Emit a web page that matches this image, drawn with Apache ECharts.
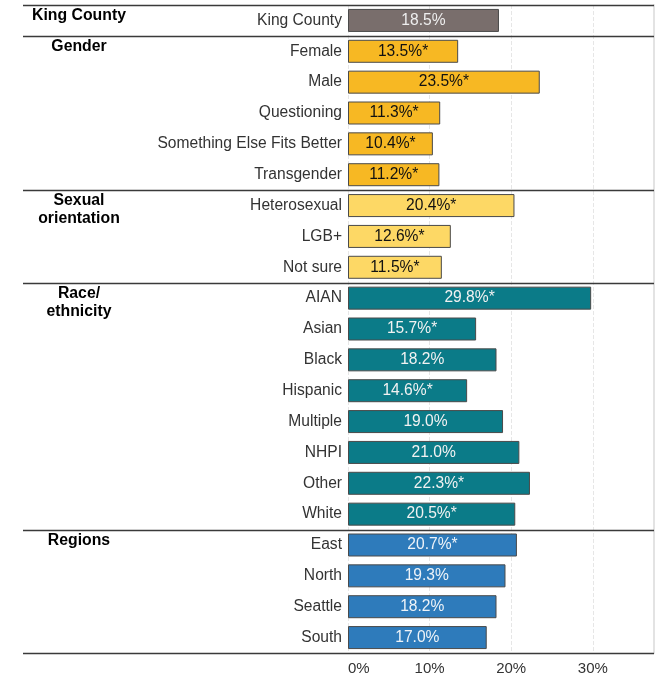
<!DOCTYPE html>
<html>
<head>
<meta charset="utf-8">
<script src="https://cdn.jsdelivr.net/npm/echarts@6/dist/echarts.min.js"></script>
<style>
html,body{margin:0;padding:0;background:#fff;}
#chart{width:666px;height:676px;}
</style>
</head>
<body>
<div id="chart"></div>
<script>
var categories = ['King County','Female','Male','Questioning','Something Else Fits Better','Transgender',
  'Heterosexual','LGB+','Not sure',
  'AIAN','Asian','Black','Hispanic','Multiple','NHPI','Other','White',
  'East','North','Seattle','South'];
var values = [18.5, 13.5, 23.5, 11.3, 10.4, 11.2,
  20.4, 12.6, 11.5,
  29.8, 15.7, 18.2, 14.6, 19.0, 21.0, 22.3, 20.5,
  20.7, 19.3, 18.2, 17.0];
var significant = [false, true, true, true, true, true,
  true, true, true,
  true, true, false, true, false, false, true, true,
  true, false, false, false];
var groupNames = ['King County', 'Gender', 'Sexual\norientation', 'Race/\nethnicity', 'Regions'];
var groupSizes = [1, 5, 3, 8, 4];
var groupColors = ['#796e6c', '#f7b823', '#fdd865', '#0b7b88', '#2e7bbb'];
var groupTextColors = ['#eeeeee', '#111111', '#111111', '#f2f2f2', '#eef3f8'];

var groupOf = [];
groupSizes.forEach(function (n, g) { for (var i = 0; i < n; i++) groupOf.push(g); });

var chart = echarts.init(document.getElementById('chart'));
var font = 'Liberation Sans, Arial, sans-serif';

var data = values.map(function (v, i) {
  var g = groupOf[i];
  return {
    value: v,
    itemStyle: { color: groupColors[g] },
    label: { color: groupTextColors[g] }
  };
});

chart.setOption({
  animation: false,
  grid: { left: 348, right: 12, top: 5, bottom: 23, containLabel: false },
  xAxis: {
    type: 'value', min: 0, max: 37.5, interval: 10,
    axisLine: { show: false }, axisTick: { show: false },
    splitLine: { show: true, lineStyle: { color: '#e6e6e6', type: 'dashed', width: 1 } },
    axisLabel: {
      show: true, fontFamily: font, fontSize: 15, color: '#333', margin: 8,
      showMaxLabel: false, alignMinLabel: 'left',
      formatter: function (v) { return v + '%'; }
    }
  },
  yAxis: [{
    type: 'category', data: categories, inverse: true,
    axisLine: { show: false }, axisTick: { show: false },
    axisLabel: { fontFamily: font, fontSize: 15.6, color: '#333', margin: 6 }
  }, {
    type: 'category', data: categories, inverse: true, position: 'right',
    axisLine: { show: true, lineStyle: { color: '#e3e3e3', width: 2 } },
    axisTick: { show: false }, axisLabel: { show: false }
  }],
  series: [{
    type: 'bar', data: data, barWidth: 23, yAxisIndex: 0,
    itemStyle: { borderColor: '#4a4a4a', borderWidth: 1 },
    label: {
      show: true, position: 'inside', fontFamily: font, fontSize: 15.6,
      formatter: function (p) {
        return p.value.toFixed(1) + '%' + (significant[p.dataIndex] ? '*' : '');
      }
    }
  }]
});

function drawGraphics() {
  var c0 = chart.convertToPixel({ yAxisIndex: 0 }, categories[0]);
  var c1 = chart.convertToPixel({ yAxisIndex: 0 }, categories[1]);
  var band = c1 - c0;
  var xRight = chart.convertToPixel({ xAxisIndex: 0 }, 37.5);
  var elements = [];
  var idx = 0;
  var boundaries = [];
  groupSizes.forEach(function (n, g) {
    var topY = chart.convertToPixel({ yAxisIndex: 0 }, categories[idx]) - band / 2;
    boundaries.push(topY);
    elements.push({
      type: 'text',
      x: 79, y: topY + 2,
      style: {
        text: groupNames[g], fill: '#000', font: 'bold 15.8px ' + font,
        align: 'center', verticalAlign: 'top', lineHeight: 18
      }
    });
    idx += n;
  });
  boundaries.push(chart.convertToPixel({ yAxisIndex: 0 }, categories[idx - 1]) + band / 2);
  boundaries.forEach(function (y) {
    y = Math.round(y) + 0.5;
    elements.push({
      type: 'line', shape: { x1: 23, y1: y, x2: xRight, y2: y },
      style: { stroke: '#3a3a3a', lineWidth: 1.5 }, z: 10
    });
  });
  chart.setOption({ graphic: elements });
}
drawGraphics();
</script>
</body>
</html>
